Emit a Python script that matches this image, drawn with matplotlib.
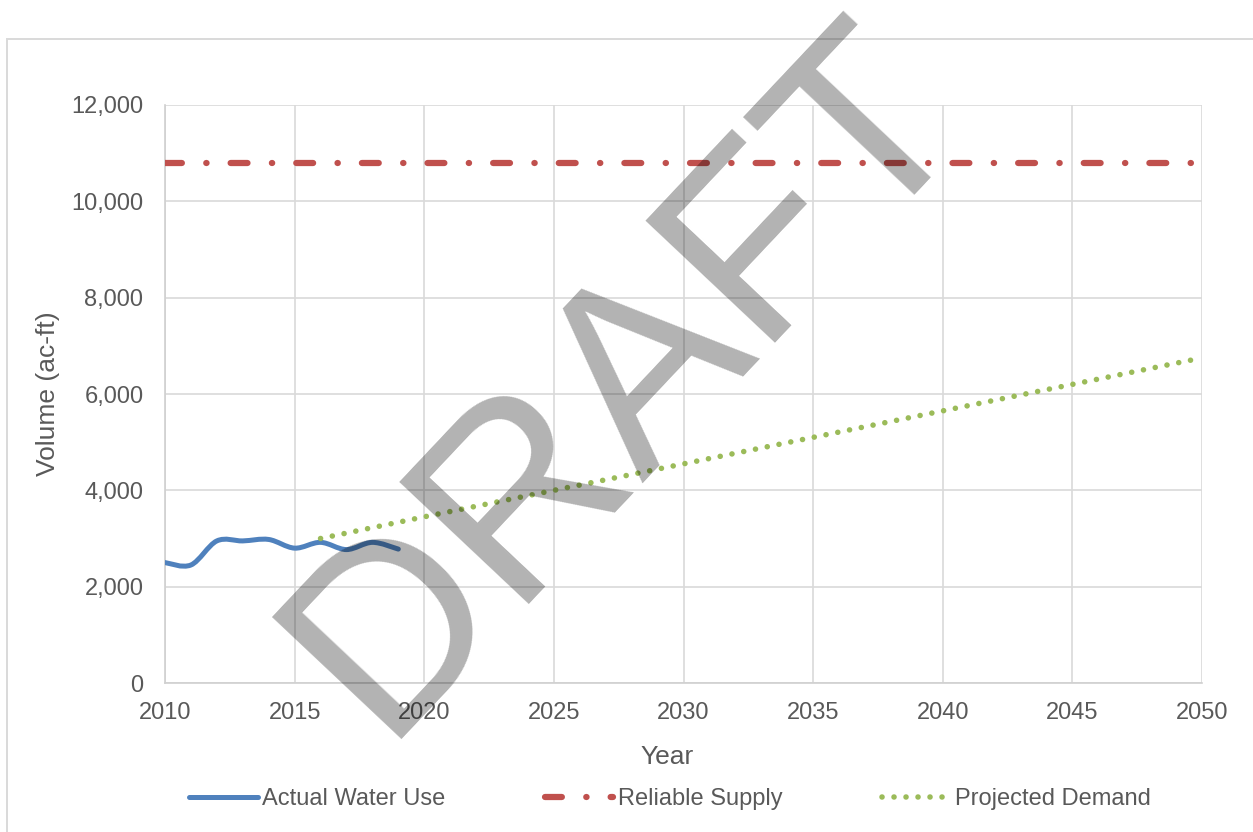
import numpy as np
import matplotlib
matplotlib.use("Agg")
import matplotlib.pyplot as plt
from matplotlib.path import Path
from matplotlib.patches import PathPatch, Rectangle
from matplotlib.lines import Line2D
from matplotlib.ticker import MultipleLocator, StrMethodFormatter

plt.rcParams['font.family'] = ['Liberation Sans', 'DejaVu Sans']

# series
actual_years = [2010, 2011, 2012, 2013, 2014, 2015, 2016, 2017, 2018, 2019]
actual_use = [2500, 2450, 2950, 2950, 2980, 2800, 2920, 2770, 2920, 2780]

supply_years = [2010, 2020, 2030, 2040, 2050]
reliable_supply = [10800, 10800, 10800, 10800, 10800]

demand_years = [2016, 2020, 2030, 2040, 2050]
projected_demand = [3000, 3450, 4550, 5650, 6750]

labels = ['Actual Water Use', 'Reliable Supply', 'Projected Demand']

BLUE = '#4F81BD'
RED = '#C0504D'
GREEN = '#9BBB59'
TEXT = '#595959'
GRID = '#D9D9D9'

W, H = 1253, 832

SUPPLY_DASH = (2.7, 3.9, 0.05, 3.85)
DEMAND_DOTS = (0.01, 2.15)


def smooth_path(xs, ys):
    # cubic bezier through every point, excel-style smoothed line
    pts = np.column_stack([xs, ys]).astype(float)
    n = len(pts)
    verts = [pts[0]]
    codes = [Path.MOVETO]
    for i in range(n - 1):
        p0 = pts[i - 1] if i > 0 else pts[i]
        p1 = pts[i]
        p2 = pts[i + 1]
        p3 = pts[i + 2] if i + 2 < n else pts[i + 1]
        verts += [p1 + (p2 - p0) / 6, p2 - (p3 - p1) / 6, p2]
        codes += [Path.CURVE4] * 3
    return Path(verts, codes)


fig = plt.figure(figsize=(W / 100, H / 100), dpi=100)

# chart area border
fig.patches.append(Rectangle((7 / W, -0.1), 1.2, 1 - 39 / H + 0.1,
                             transform=fig.transFigure, fill=False,
                             edgecolor=GRID, lw=1.4, zorder=0))

ax = fig.add_axes([165 / W, 1 - 683 / H, 1037 / W, 578 / H])

ax.add_patch(PathPatch(smooth_path(actual_years, actual_use), fill=False,
                       edgecolor=BLUE, lw=3.6, capstyle='round',
                       joinstyle='round', zorder=3))
ax.plot(supply_years, reliable_supply, color=RED, lw=4.5,
        dashes=SUPPLY_DASH, dash_capstyle='round', zorder=3)
ax.plot(demand_years, projected_demand, color=GREEN, lw=4.0,
        dashes=DEMAND_DOTS, dash_capstyle='round', zorder=3)

ax.set_xlim(2010, 2050)
ax.set_ylim(0, 12000)
ax.xaxis.set_major_locator(MultipleLocator(5))
ax.yaxis.set_major_locator(MultipleLocator(2000))
ax.yaxis.set_major_formatter(StrMethodFormatter('{x:,.0f}'))
ax.grid(True, color=GRID, lw=1.2)
ax.set_axisbelow(True)
for side in ['top', 'right']:
    ax.spines[side].set_visible(False)
for side in ['left', 'bottom']:
    ax.spines[side].set_color('#D0D0D0')
    ax.spines[side].set_linewidth(1.2)
ax.tick_params(axis='both', length=0, labelsize=17, labelcolor=TEXT)
ax.tick_params(axis='y', pad=15.5)
ax.tick_params(axis='x', pad=14)

ax.set_xlabel('Year', fontsize=19, color=TEXT)
ax.xaxis.set_label_coords((667 - 165) / 1037, (683 - 757) / 578)
ax.xaxis.label.set_va('center')
ax.set_ylabel('Volume (ac-ft)', fontsize=19, color=TEXT)
ax.yaxis.set_label_coords((48 - 165) / 1037, 0.5)
ax.yaxis.label.set_va('center')

handles = [
    Line2D([], [], color=BLUE, lw=3.6, solid_capstyle='round'),
    Line2D([], [], color=RED, lw=4.5, dashes=SUPPLY_DASH,
           dash_capstyle='round'),
    Line2D([], [], color=GREEN, lw=4.0, dashes=DEMAND_DOTS,
           dash_capstyle='round'),
]
fig.legend(handles, labels, loc='center', bbox_to_anchor=(670 / W, 1 - 799 / H),
           ncol=3, frameon=False, fontsize=17, labelcolor=TEXT,
           handlelength=2.9, handletextpad=0.2, columnspacing=4.2,
           borderpad=0)

# watermark
fig.text(381 / W, 1 - 739 / H, 'DRAFT', rotation=46.7, rotation_mode='anchor',
         ha='left', va='baseline', fontsize=186, color='black', alpha=0.3,
         zorder=10)

fig.savefig('out.png', dpi=100)
